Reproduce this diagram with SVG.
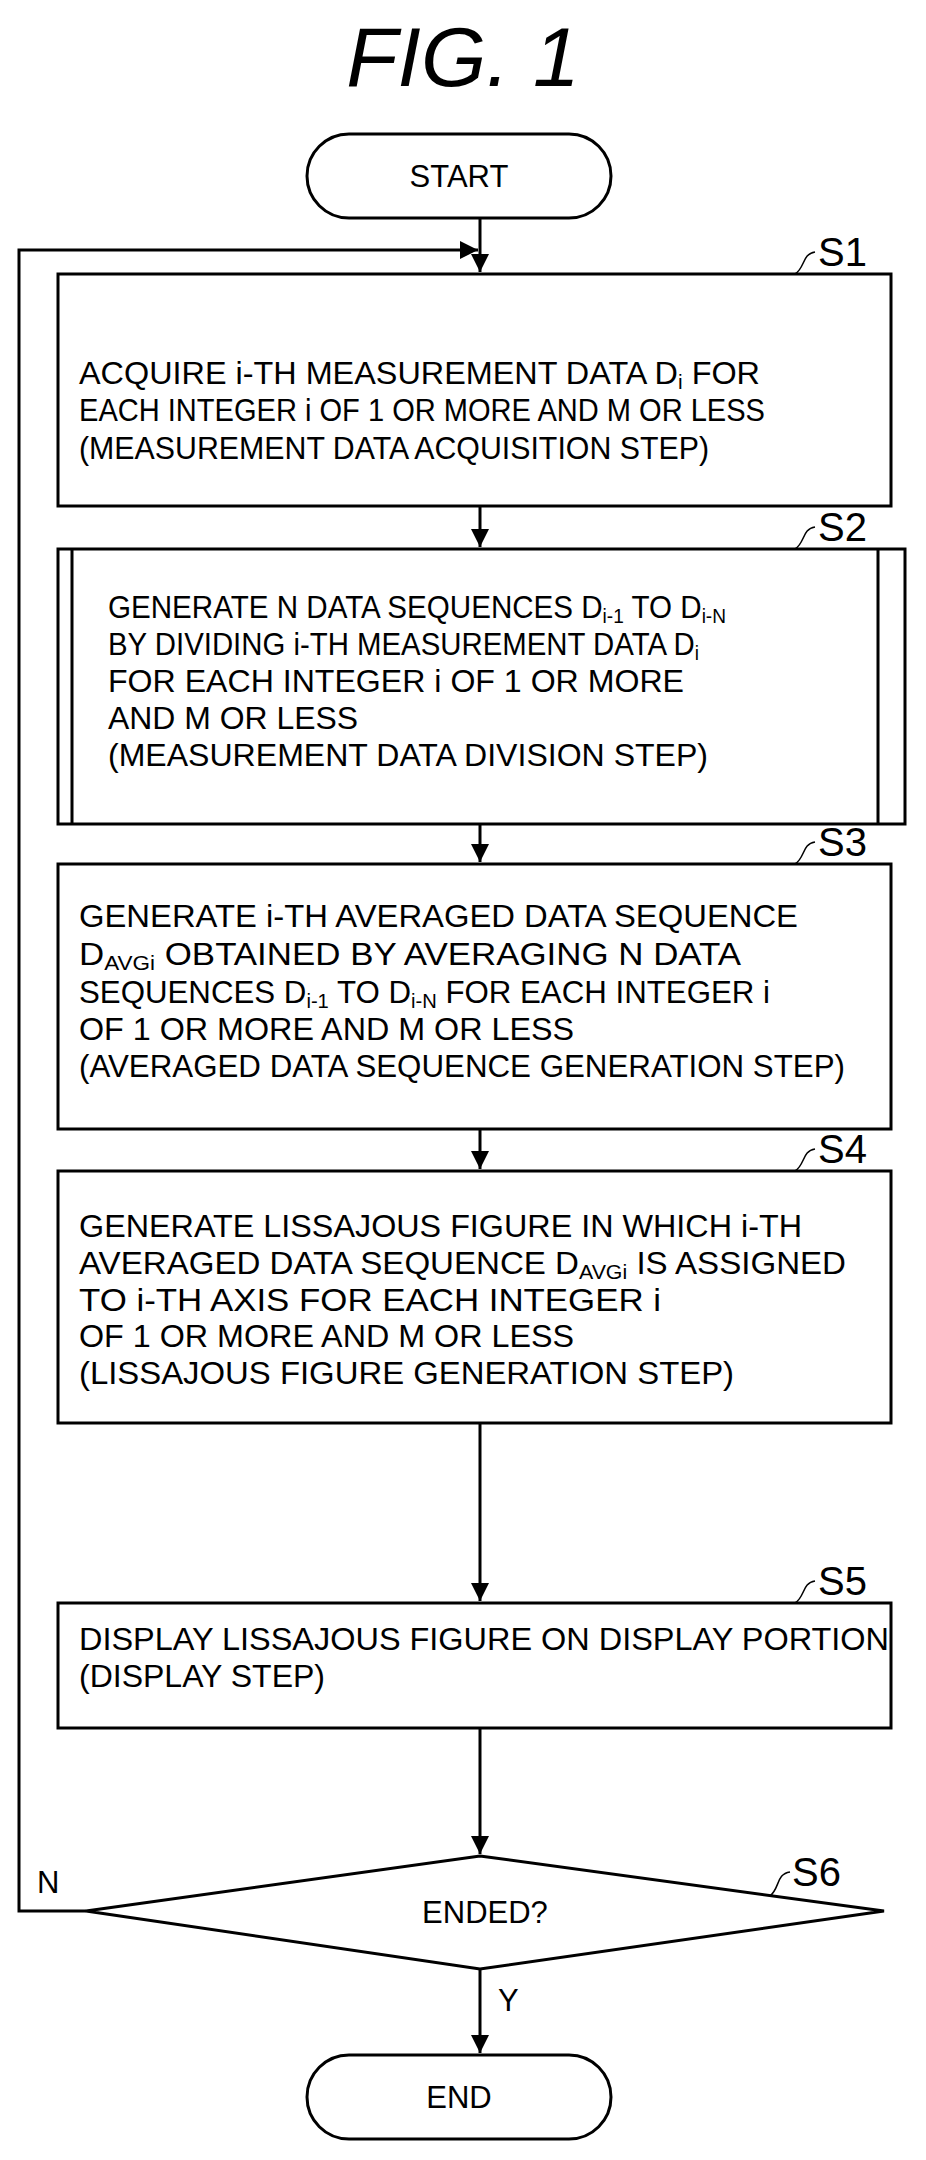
<svg xmlns="http://www.w3.org/2000/svg" width="926" height="2160" viewBox="0 0 926 2160">
<style>
.s{fill:#fff;stroke:#000;stroke-width:3}
.c{fill:none;stroke:#000;stroke-width:3}
.t{font-family:"Liberation Sans",Arial,sans-serif;font-size:31px;fill:#000}
.l{font-family:"Liberation Sans",Arial,sans-serif;font-size:40px;fill:#000}
.q{fill:none;stroke:#000;stroke-width:1.5}
.sb{font-size:20px}
</style>
<defs>
<marker id="a" viewBox="0 0 10 10" refX="10" refY="5" markerWidth="8" markerHeight="6" orient="auto" markerUnits="strokeWidth"><path d="M0,0L10,5L0,10z" fill="#000"/></marker>
</defs>
<rect width="926" height="2160" fill="#fff"/>
<text x="463" y="86" text-anchor="middle" font-family="Liberation Sans,Arial,sans-serif" font-size="84" font-style="italic">FIG. 1</text>
<g id="connectors">
<line class="c" x1="480" y1="218" x2="480" y2="272" marker-end="url(#a)"/>
<polyline class="c" points="86,1911 19,1911 19,250 478,250" marker-end="url(#a)"/>
<line class="c" x1="480" y1="506" x2="480" y2="547" marker-end="url(#a)"/>
<line class="c" x1="480" y1="824" x2="480" y2="862" marker-end="url(#a)"/>
<line class="c" x1="480" y1="1129" x2="480" y2="1169" marker-end="url(#a)"/>
<line class="c" x1="480" y1="1423" x2="480" y2="1601" marker-end="url(#a)"/>
<line class="c" x1="480" y1="1728" x2="480" y2="1854" marker-end="url(#a)"/>
<line class="c" x1="480" y1="1969" x2="480" y2="2053" marker-end="url(#a)"/>
<text class="t" x="37" y="1893" font-size="36">N</text>
<text class="t" x="498" y="2011" font-size="36">Y</text>
</g>
<g id="start">
<rect class="s" x="307" y="134" width="304" height="84" rx="42"/>
<text class="t" x="459" y="187" text-anchor="middle">START</text>
</g>
<g id="s1">
<rect class="s" x="58" y="274" width="833" height="232"/>
<text class="t" x="79" y="384" textLength="681" lengthAdjust="spacingAndGlyphs">ACQUIRE i-TH MEASUREMENT DATA D<tspan class="sb" dy="5">i</tspan><tspan dy="-5"> FOR</tspan></text>
<text class="t" x="79" y="421" textLength="686" lengthAdjust="spacingAndGlyphs">EACH INTEGER i OF 1 OR MORE AND M OR LESS</text>
<text class="t" x="79" y="459" textLength="630" lengthAdjust="spacingAndGlyphs">(MEASUREMENT DATA ACQUISITION STEP)</text>
<path class="q" d="M795,274 C805,268 802,254 815,252"/>
<text class="l" x="818" y="266">S1</text>
</g>
<g id="s2">
<rect class="s" x="58" y="549" width="847" height="275"/>
<line class="c" x1="72" y1="549" x2="72" y2="824"/>
<line class="c" x1="878" y1="549" x2="878" y2="824"/>
<text class="t" x="108" y="618" textLength="618" lengthAdjust="spacingAndGlyphs">GENERATE N DATA SEQUENCES D<tspan class="sb" dy="5">i-1</tspan><tspan dy="-5"> TO D</tspan><tspan class="sb" dy="5">i-N</tspan></text>
<text class="t" x="108" y="655" textLength="591" lengthAdjust="spacingAndGlyphs">BY DIVIDING i-TH MEASUREMENT DATA D<tspan class="sb" dy="5">i</tspan></text>
<text class="t" x="108" y="692" textLength="576" lengthAdjust="spacingAndGlyphs">FOR EACH INTEGER i OF 1 OR MORE</text>
<text class="t" x="108" y="729" textLength="250" lengthAdjust="spacingAndGlyphs">AND M OR LESS</text>
<text class="t" x="108" y="766" textLength="600" lengthAdjust="spacingAndGlyphs">(MEASUREMENT DATA DIVISION STEP)</text>
<path class="q" d="M795,549 C805,543 802,529 815,527"/>
<text class="l" x="818" y="541">S2</text>
</g>
<g id="s3">
<rect class="s" x="58" y="864" width="833" height="265"/>
<text class="t" x="79" y="927" textLength="719" lengthAdjust="spacingAndGlyphs">GENERATE i-TH AVERAGED DATA SEQUENCE</text>
<text class="t" x="79" y="965" textLength="662" lengthAdjust="spacingAndGlyphs">D<tspan class="sb" dy="5">AVGi</tspan><tspan dy="-5"> OBTAINED BY AVERAGING N DATA</tspan></text>
<text class="t" x="79" y="1003" textLength="691" lengthAdjust="spacingAndGlyphs">SEQUENCES D<tspan class="sb" dy="5">i-1</tspan><tspan dy="-5"> TO D</tspan><tspan class="sb" dy="5">i-N</tspan><tspan dy="-5"> FOR EACH INTEGER i</tspan></text>
<text class="t" x="79" y="1040" textLength="495" lengthAdjust="spacingAndGlyphs">OF 1 OR MORE AND M OR LESS</text>
<text class="t" x="79" y="1077" textLength="766" lengthAdjust="spacingAndGlyphs">(AVERAGED DATA SEQUENCE GENERATION STEP)</text>
<path class="q" d="M795,864 C805,858 802,844 815,842"/>
<text class="l" x="818" y="856">S3</text>
</g>
<g id="s4">
<rect class="s" x="58" y="1171" width="833" height="252"/>
<text class="t" x="79" y="1237" textLength="723" lengthAdjust="spacingAndGlyphs">GENERATE LISSAJOUS FIGURE IN WHICH i-TH</text>
<text class="t" x="79" y="1274" textLength="767" lengthAdjust="spacingAndGlyphs">AVERAGED DATA SEQUENCE D<tspan class="sb" dy="5">AVGi</tspan><tspan dy="-5"> IS ASSIGNED</tspan></text>
<text class="t" x="79" y="1311" textLength="582" lengthAdjust="spacingAndGlyphs">TO i-TH AXIS FOR EACH INTEGER i</text>
<text class="t" x="79" y="1347" textLength="495" lengthAdjust="spacingAndGlyphs">OF 1 OR MORE AND M OR LESS</text>
<text class="t" x="79" y="1384" textLength="655" lengthAdjust="spacingAndGlyphs">(LISSAJOUS FIGURE GENERATION STEP)</text>
<path class="q" d="M795,1171 C805,1165 802,1151 815,1149"/>
<text class="l" x="818" y="1163">S4</text>
</g>
<g id="s5">
<rect class="s" x="58" y="1603" width="833" height="125"/>
<text class="t" x="79" y="1650" textLength="810" lengthAdjust="spacingAndGlyphs">DISPLAY LISSAJOUS FIGURE ON DISPLAY PORTION</text>
<text class="t" x="79" y="1687" textLength="246" lengthAdjust="spacingAndGlyphs">(DISPLAY STEP)</text>
<path class="q" d="M795,1603 C805,1597 802,1583 815,1581"/>
<text class="l" x="818" y="1595">S5</text>
</g>
<g id="s6">
<polygon class="s" points="480,1856 884,1911 480,1969 86,1911"/>
<text class="t" x="485" y="1923" text-anchor="middle">ENDED?</text>
<path class="q" d="M770,1896 C780,1888 776,1874 790,1872"/>
<text class="l" x="792" y="1886">S6</text>
</g>
<g id="end">
<rect class="s" x="307" y="2055" width="304" height="84" rx="42"/>
<text class="t" x="459" y="2108" text-anchor="middle">END</text>
</g>
</svg>
